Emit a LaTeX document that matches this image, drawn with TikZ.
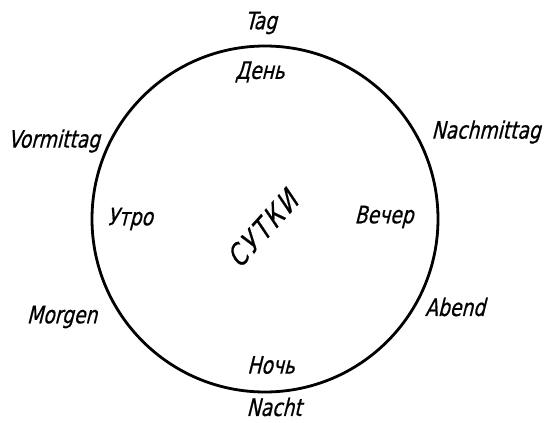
\documentclass[tikz,border=0pt]{standalone}
\usepackage{fontspec}
\usepackage{tikz}
\usetikzlibrary{positioning}
\newfontfamily\gostfont[FakeStretch=0.78,FakeSlant=0.25,FakeBold=0.6]{DejaVu Sans}
\newfontfamily\gostwide[FakeStretch=0.8,FakeSlant=0.25,FakeBold=0.6,LetterSpace=10]{DejaVu Sans}
\tikzset{
  ring/.style  ={draw, circle, line width=2.8pt, minimum size=346pt,
                 inner sep=0pt},
  term/.style  ={font=\gostfont\fontsize{24}{26}\selectfont, inner sep=0pt},
  whole/.style ={font=\gostwide\fontsize{29}{30}\selectfont, inner sep=0pt,
                 rotate=48},
}
\begin{document}
\begin{tikzpicture}[x=1pt,y=-1pt]
  \path[use as bounding box] (0,0) rectangle (544,423);
  \node[ring] (ring) at (265,219) {};
  \node[whole] (sutki) at (262,229) {СУТКИ};
  %% inner (russian) terms
  \node[term] (den)   at (260,72)  {День};
  \node[term] (utro)  at (130,219) {Утро};
  \node[term] (vecher) at (384,217) {Вечер};
  \node[term] (noch)  at (271,365) {Ночь};
  %% outer (german) terms
  \node[term] (tag)   at (261,23)  {Tag};
  \node[term] (vorm)  at (54,141)  {Vormittag};
  \node[term] (nachm) at (486,132) {Nachmittag};
  \node[term] (morgen) at (62,317) {Morgen};
  \node[term] (abend) at (455,307) {Abend};
  \node[term] (nacht) at (274,407) {Nacht};
\end{tikzpicture}
\end{document}
